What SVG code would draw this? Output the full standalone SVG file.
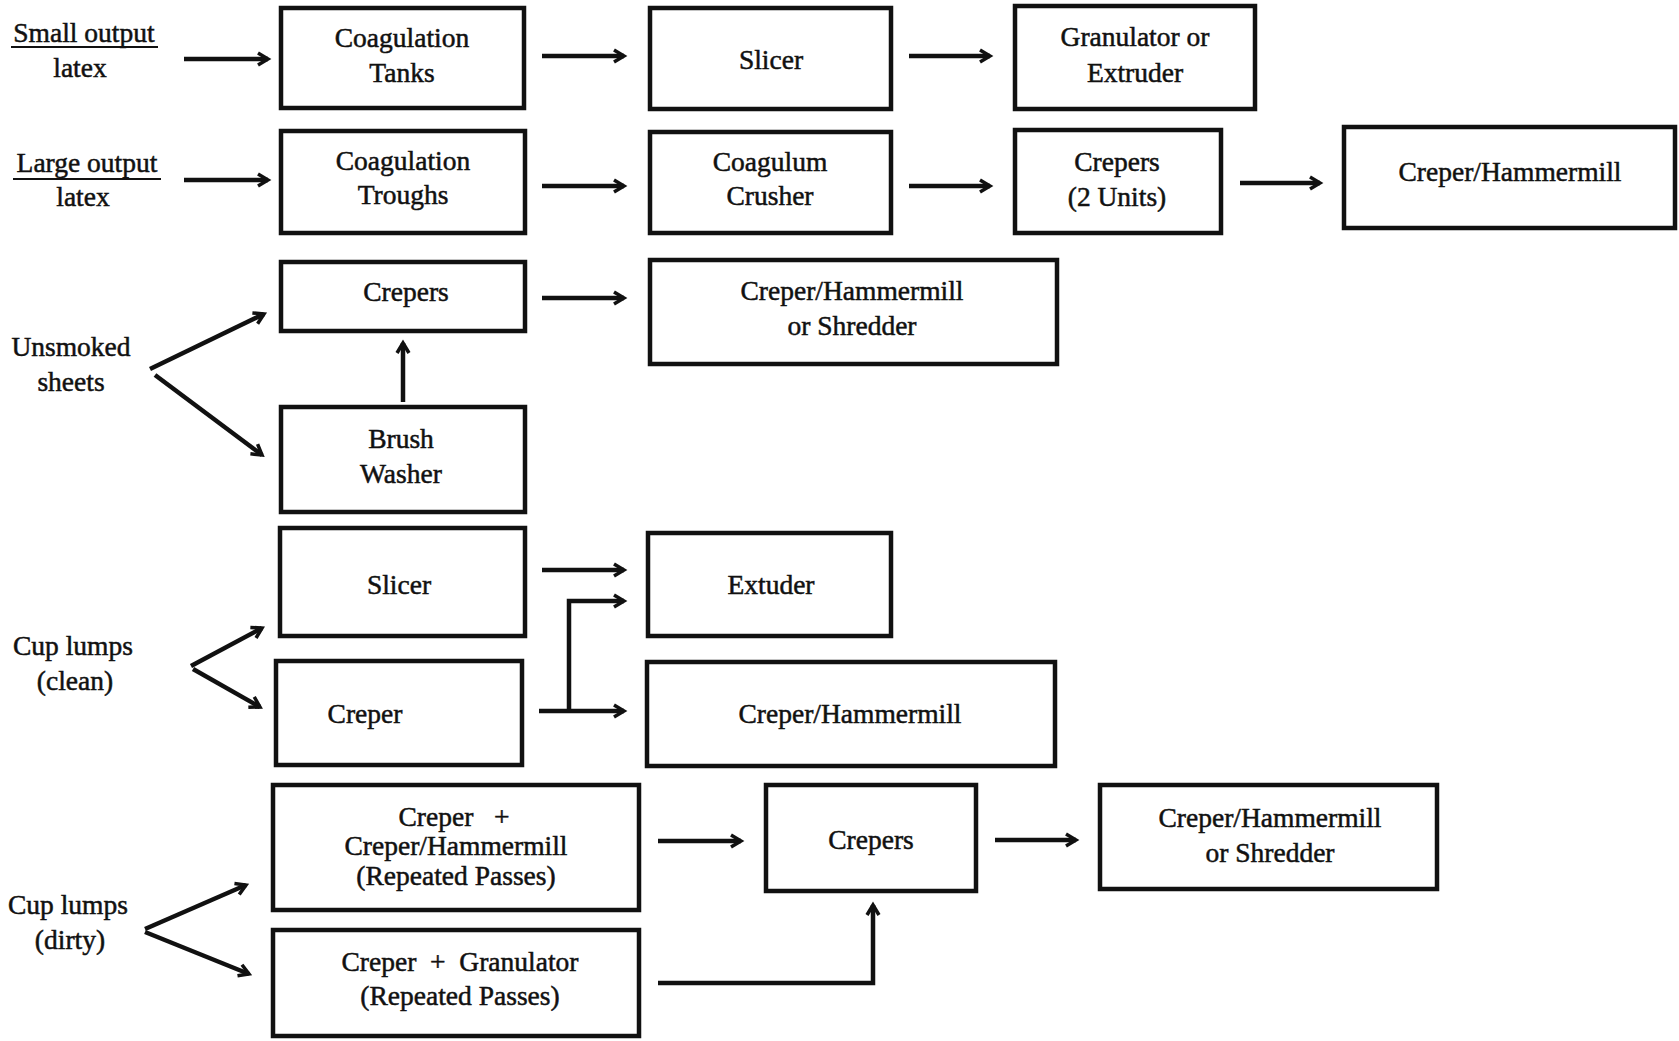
<svg xmlns="http://www.w3.org/2000/svg" width="1679" height="1041" viewBox="0 0 1679 1041">
<style>
.box{fill:#fff;stroke:#111;stroke-width:4.5}
.t{font-family:"Liberation Serif","Times New Roman",serif;font-size:27.5px;fill:#111;stroke:#111;stroke-width:0.5;text-anchor:middle}
.c{fill:none;stroke:#111;stroke-width:4.5}
.ca{fill:none;stroke:#111;stroke-width:4.5;marker-end:url(#ah)}
</style>
<defs>
<marker id="ah" markerUnits="userSpaceOnUse" markerWidth="16" markerHeight="16" refX="12" refY="7" orient="auto" overflow="visible">
<path d="M2,1 L12,7 L2,13" fill="none" stroke="#111" stroke-width="3.5"/>
</marker>
</defs>
<rect width="1679" height="1041" fill="#fff"/>

<g id="in-small">
<text class="t" x="84" y="42">Small output</text>
<line x1="11" y1="47" x2="158" y2="47" stroke="#111" stroke-width="2"/>
<text class="t" x="80" y="77">latex</text>
</g>
<g id="in-large">
<text class="t" x="87" y="172">Large output</text>
<line x1="13" y1="179" x2="161" y2="179" stroke="#111" stroke-width="2"/>
<text class="t" x="83" y="206">latex</text>
</g>
<g id="in-unsmoked">
<text class="t" x="71" y="356">Unsmoked</text>
<text class="t" x="71" y="391">sheets</text>
</g>
<g id="in-clean">
<text class="t" x="73" y="655">Cup lumps</text>
<text class="t" x="75" y="690">(clean)</text>
</g>
<g id="in-dirty">
<text class="t" x="68" y="914">Cup lumps</text>
<text class="t" x="70" y="949">(dirty)</text>
</g>

<g id="n-coag-tanks"><rect class="box" x="281" y="8" width="243" height="100"/>
<text class="t" x="402" y="47">Coagulation</text><text class="t" x="402" y="82">Tanks</text></g>
<g id="n-slicer1"><rect class="box" x="650" y="8" width="241" height="101"/>
<text class="t" x="771" y="69">Slicer</text></g>
<g id="n-gran"><rect class="box" x="1015" y="6" width="240" height="103"/>
<text class="t" x="1135" y="46">Granulator or</text><text class="t" x="1135" y="82">Extruder</text></g>

<g id="n-coag-troughs"><rect class="box" x="281" y="131" width="244" height="102"/>
<text class="t" x="403" y="170">Coagulation</text><text class="t" x="403" y="204">Troughs</text></g>
<g id="n-crusher"><rect class="box" x="650" y="132" width="241" height="101"/>
<text class="t" x="770" y="171">Coagulum</text><text class="t" x="770" y="205">Crusher</text></g>
<g id="n-crepers2"><rect class="box" x="1015" y="130" width="206" height="103"/>
<text class="t" x="1117" y="171">Crepers</text><text class="t" x="1117" y="206">(2 Units)</text></g>
<g id="n-ch1"><rect class="box" x="1344" y="127" width="331" height="101"/>
<text class="t" x="1510" y="181">Creper/Hammermill</text></g>

<g id="n-crepers3"><rect class="box" x="281" y="262" width="244" height="69"/>
<text class="t" x="406" y="301">Crepers</text></g>
<g id="n-chs1"><rect class="box" x="650" y="260" width="407" height="104"/>
<text class="t" x="852" y="300">Creper/Hammermill</text><text class="t" x="852" y="335">or Shredder</text></g>
<g id="n-brush"><rect class="box" x="281" y="407" width="244" height="105"/>
<text class="t" x="401" y="448">Brush</text><text class="t" x="401" y="483">Washer</text></g>

<g id="n-slicer2"><rect class="box" x="280" y="528" width="245" height="108"/>
<text class="t" x="399" y="594">Slicer</text></g>
<g id="n-creper4"><rect class="box" x="276" y="661" width="246" height="104"/>
<text class="t" x="365" y="723">Creper</text></g>
<g id="n-extuder"><rect class="box" x="648" y="533" width="243" height="103"/>
<text class="t" x="771" y="594">Extuder</text></g>
<g id="n-ch2"><rect class="box" x="647" y="662" width="408" height="104"/>
<text class="t" x="850" y="723">Creper/Hammermill</text></g>

<g id="n-cch"><rect class="box" x="273" y="785" width="366" height="125"/>
<text class="t" x="454" y="826" xml:space="preserve">Creper   +</text>
<text class="t" x="456" y="855">Creper/Hammermill</text>
<text class="t" x="456" y="885">(Repeated Passes)</text></g>
<g id="n-cg"><rect class="box" x="273" y="930" width="366" height="106"/>
<text class="t" x="460" y="971" xml:space="preserve">Creper  +  Granulator</text>
<text class="t" x="460" y="1005">(Repeated Passes)</text></g>
<g id="n-crepers5"><rect class="box" x="766" y="785" width="210" height="106"/>
<text class="t" x="871" y="849">Crepers</text></g>
<g id="n-chs2"><rect class="box" x="1100" y="785" width="337" height="104"/>
<text class="t" x="1270" y="827">Creper/Hammermill</text><text class="t" x="1270" y="862">or Shredder</text></g>

<g id="connectors">
<line class="ca" x1="184" y1="59" x2="268" y2="59"/>
<line class="ca" x1="542" y1="56" x2="624" y2="56"/>
<line class="ca" x1="909" y1="56" x2="990" y2="56"/>
<line class="ca" x1="184" y1="180" x2="268" y2="180"/>
<line class="ca" x1="542" y1="186" x2="624" y2="186"/>
<line class="ca" x1="909" y1="186" x2="990" y2="186"/>
<line class="ca" x1="1240" y1="183" x2="1320" y2="183"/>
<line class="ca" x1="150" y1="369" x2="264" y2="314"/>
<line class="ca" x1="155" y1="375" x2="262" y2="455"/>
<line class="ca" x1="542" y1="298" x2="624" y2="298"/>
<line class="ca" x1="403" y1="402" x2="403" y2="343"/>
<line class="ca" x1="191" y1="666" x2="262" y2="628"/>
<line class="ca" x1="193" y1="669" x2="260" y2="707"/>
<line class="ca" x1="542" y1="570" x2="624" y2="570"/>
<line class="ca" x1="539" y1="711" x2="624" y2="711"/>
<polyline class="ca" points="569,711 569,601 624,601"/>
<line class="ca" x1="145" y1="929" x2="246" y2="885"/>
<line class="ca" x1="145" y1="932" x2="249" y2="974"/>
<line class="ca" x1="658" y1="841" x2="741" y2="841"/>
<polyline class="ca" points="658,983 873,983 873,905"/>
<line class="ca" x1="995" y1="840" x2="1076" y2="840"/>
</g>
</svg>
